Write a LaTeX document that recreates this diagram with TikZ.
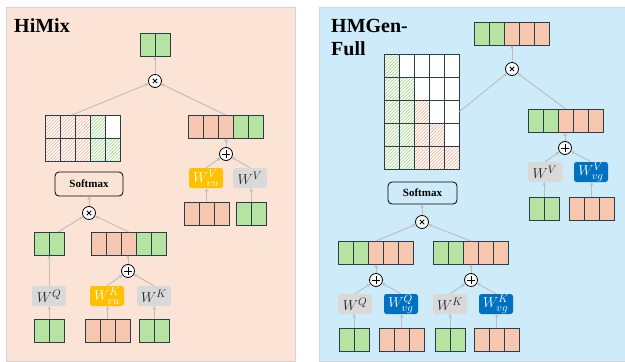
\documentclass[tikz,border=0pt]{standalone}
\usepackage{fontspec}
\setmainfont{Liberation Serif}
\usetikzlibrary{arrows.meta,patterns.meta,calc}

\definecolor{panelL}{HTML}{FBE3D6}
\definecolor{panelR}{HTML}{CDEBF9}
\definecolor{panelE}{HTML}{D4D4D4}
\definecolor{cgreen}{HTML}{B4E3A2}
\definecolor{cpeach}{HTML}{F6C7AE}
\definecolor{hgreen}{HTML}{A6D98F}
\definecolor{hpeach}{HTML}{F3B79C}
\definecolor{cellc}{HTML}{2B3E48}
\definecolor{wgrey}{HTML}{D9D9D9}
\definecolor{wyellow}{HTML}{FFC000}
\definecolor{wblue}{HTML}{0070C0}
\definecolor{arrc}{HTML}{BDBDBD}

\tikzset{
  cell/.style={draw=cellc, line width=0.9pt},
  cg/.style={fill=cgreen},
  cp/.style={fill=cpeach},
  cw/.style={fill=white},
  hg/.style={preaction={fill=white}, pattern={Lines[angle=45,distance=2.3pt,line width=0.7pt]}, pattern color=hgreen},
  hp/.style={preaction={fill=white}, pattern={Lines[angle=45,distance=2.3pt,line width=0.7pt]}, pattern color=hpeach},
  arr/.style={draw=arrc, line width=0.9pt, -{Stealth[length=3.5pt,width=3.5pt]}},
  opbase/.style={circle, draw=black, fill=white, line width=0.8pt, minimum size=13pt, inner sep=0pt},
  opx/.style={opbase, path picture={\draw[line width=1pt]
      (path picture bounding box.center) ++(-2.2pt,-2.2pt) -- ++(4.4pt,4.4pt)
      (path picture bounding box.center) ++(-2.2pt,2.2pt) -- ++(4.4pt,-4.4pt);}},
  opp/.style={opbase, path picture={\draw[line width=1pt]
      (path picture bounding box.center) ++(-3.6pt,0pt) -- ++(7.2pt,0pt)
      (path picture bounding box.center) ++(0pt,-3.6pt) -- ++(0pt,7.2pt);}},
  wbox/.style={rounded corners=2.5pt, minimum width=34pt, minimum height=20pt, inner sep=0pt,
      font=\fontsize{15}{15}\selectfont},
  wg/.style={wbox, fill=wgrey, text=black!85},
  wy/.style={wbox, fill=wyellow, text=white},
  wb/.style={wbox, fill=wblue, text=white},
  softbox/.style={draw=black, rounded corners=4pt, line width=0.8pt, inner sep=0pt,
      font=\bfseries\fontsize{11}{11}\selectfont},
  title/.style={anchor=base west, inner sep=0pt, font=\bfseries\fontsize{20}{22}\selectfont},
}

% a row of cells, top-left corner at (#1,#2)
\newcommand\cellsat[3]{%
  \foreach \s [count=\i from 0] in {#3}{\path[cell,\s] ({#1+15*\i},#2) rectangle ++(15,23);}}
% a named vector: name, x, y, number of cells, cell styles
\newcommand\vrow[5]{%
  \cellsat{#2}{#3}{#5}%
  \node[inner sep=0pt, minimum width=#4*15pt, minimum height=23pt, anchor=north west] (#1) at (#2,#3) {};}

\begin{document}
\begin{tikzpicture}[x=1pt, y=-1pt]
\useasboundingbox (0,0) rectangle (625,362);

% panels
\fill[panelL, draw=panelE, line width=0.6pt] (6,7) rectangle (295,361);
\fill[panelR, draw=panelE, line width=0.6pt] (319,7) rectangle (625,361);

\node[title] at (14,32) {HiMix};
\node[title] at (331,32) {HMGen-};
\node[title] at (331,55) {Full};

% ---------------- HiMix ----------------
\vrow{outL}{140}{33}{2}{cg,cg}
\node[opx] (mL1) at (155,81) {};

\cellsat{45}{115}{hp,hp,hp,hg,cw}
\cellsat{45}{138}{hp,hp,hp,hg,hg}
\node[inner sep=0pt, minimum width=75pt, minimum height=46pt, anchor=north west] (matL) at (45,115) {};

\vrow{valL}{188}{115}{5}{cp,cp,cp,cg,cg}
\node[opp] (pL1) at (226,154) {};
\node[wy] (WVvu) at (206,178) {$W^{V}_{vu}$};
\node[wg] (WVl) at (250,178) {$W^{V}$};
\vrow{bvL1}{184}{202}{3}{cp,cp,cp}
\vrow{bvL2}{236}{202}{2}{cg,cg}

\node[softbox, minimum width=68pt, minimum height=24pt] (softL) at (89,184) {Softmax};
\node[opx] (mL2) at (89,213) {};

\vrow{qL}{34}{232}{2}{cg,cg}
\vrow{kL}{91}{232}{5}{cp,cp,cp,cg,cg}
\node[opp] (pL2) at (128,271) {};
\node[wg] (WQl) at (49,296) {$W^{Q}$};
\node[wy] (WKvu) at (107,296) {$W^{K}_{vu}$};
\node[wg] (WKl) at (154,296) {$W^{K}$};
\vrow{bqL}{34}{319}{2}{cg,cg}
\vrow{bkL1}{85}{319}{3}{cp,cp,cp}
\vrow{bkL2}{139}{319}{2}{cg,cg}

\draw[arr] (mL1.north) -- (mL1.north |- outL.south);
\draw[arr] ($(matL.north west)+(27,0)$) -- (mL1);
\draw[arr] (valL.north) -- (mL1);
\draw[arr] (pL1.north) -- (pL1.north |- valL.south);
\draw[arr] (WVvu.north) -- (pL1);
\draw[arr] (WVl.north) -- (pL1);
\draw[arr] (bvL1.north) -- (bvL1.north |- WVvu.south);
\draw[arr] (bvL2.north) -- (bvL2.north |- WVl.south);
\draw[arr] (mL2.north) -- (mL2.north |- softL.south);
\draw[arr] ($(qL.north)+(9,0)$) -- (mL2);
\draw[arr] (kL.north) -- (mL2);
\draw[arr] (WQl.north) -- (WQl.north |- qL.south);
\draw[arr] (pL2.north) -- (pL2.north |- kL.south);
\draw[arr] (WKvu.north) -- (pL2);
\draw[arr] (WKl.north) -- (pL2);
\draw[arr] (bqL.north) -- (bqL.north |- WQl.south);
\draw[arr] (bkL1.north) -- (bkL1.north |- WKvu.south);
\draw[arr] (bkL2.north) -- (bkL2.north |- WKl.south);

% ---------------- HMGen-Full ----------------
\vrow{outR}{474}{22}{5}{cg,cg,cp,cp,cp}
\node[opx] (mR1) at (512,69) {};

\cellsat{384}{54}{hg,cw,cw,cw,cw}
\cellsat{384}{77}{hg,hg,cw,cw,cw}
\cellsat{384}{100}{hg,hg,hp,cw,cw}
\cellsat{384}{123}{hg,hg,hp,hp,cw}
\cellsat{384}{146}{hg,hg,hp,hp,hp}
\node[inner sep=0pt, minimum width=75pt, minimum height=115pt, anchor=north west] (matR) at (384,54) {};

\vrow{valR}{528}{109}{5}{cg,cg,cp,cp,cp}
\node[opp] (pR1) at (565,148) {};
\node[wg] (WVr) at (545,172) {$W^{V}$};
\node[wb] (WVvg) at (591,172) {$W^{V}_{vg}$};
\vrow{bvR1}{529}{197}{2}{cg,cg}
\vrow{bvR2}{569}{197}{3}{cp,cp,cp}

\node[softbox, minimum width=69pt, minimum height=22pt] (softR) at (422.5,193) {Softmax};
\node[opx] (mR2) at (422,222) {};

\vrow{qR}{338}{241}{5}{cg,cg,cp,cp,cp}
\vrow{kR}{433}{241}{5}{cg,cg,cp,cp,cp}
\node[opp] (pR2) at (376,280) {};
\node[opp] (pR3) at (471,280) {};
\node[wg] (WQr) at (355,304) {$W^{Q}$};
\node[wb] (WQvg) at (401,304) {$W^{Q}_{vg}$};
\node[wg] (WKr) at (450,304) {$W^{K}$};
\node[wb] (WKvg) at (496,304) {$W^{K}_{vg}$};
\vrow{bqR1}{339}{328}{2}{cg,cg}
\vrow{bqR2}{379}{328}{3}{cp,cp,cp}
\vrow{bkR1}{435}{328}{2}{cg,cg}
\vrow{bkR2}{474}{328}{3}{cp,cp,cp}

\draw[arr] (mR1.north) -- (mR1.north |- outR.south);
\draw[arr] (matR.east) -- (mR1);
\draw[arr] (valR.north) -- (mR1);
\draw[arr] (pR1.north) -- (pR1.north |- valR.south);
\draw[arr] (WVr.north) -- (pR1);
\draw[arr] (WVvg.north) -- (pR1);
\draw[arr] (bvR1.north) -- (bvR1.north |- WVr.south);
\draw[arr] (bvR2.north) -- (bvR2.north |- WVvg.south);
\draw[arr] (mR2.north) -- (mR2.north |- softR.south);
\draw[arr] (qR.north) -- (mR2);
\draw[arr] (kR.north) -- (mR2);
\draw[arr] (pR2.north) -- (pR2.north |- qR.south);
\draw[arr] (pR3.north) -- (pR3.north |- kR.south);
\draw[arr] (WQr.north) -- (pR2);
\draw[arr] (WQvg.north) -- (pR2);
\draw[arr] (WKr.north) -- (pR3);
\draw[arr] (WKvg.north) -- (pR3);
\draw[arr] (bqR1.north) -- (bqR1.north |- WQr.south);
\draw[arr] (bqR2.north) -- (bqR2.north |- WQvg.south);
\draw[arr] (bkR1.north) -- (bkR1.north |- WKr.south);
\draw[arr] (bkR2.north) -- (bkR2.north |- WKvg.south);
\end{tikzpicture}
\end{document}
